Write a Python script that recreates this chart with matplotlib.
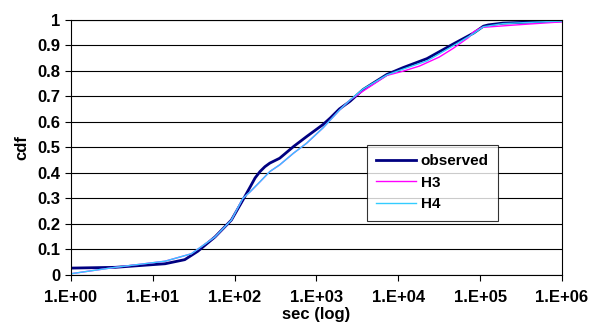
import matplotlib
matplotlib.use("Agg")
import matplotlib.pyplot as plt
import numpy as np

plt.rcParams['font.family'] = ['Liberation Sans', 'DejaVu Sans']
plt.rcParams['font.weight'] = 'bold'

# log10(sec) sample points and cdf values for each series
obs_logx = [0.0, 0.54, 1.15, 1.39, 1.55, 1.76, 1.96, 2.1, 2.15, 2.19, 2.25, 2.31,
            2.37, 2.43, 2.55, 2.72, 2.88, 3.08, 3.17, 3.28, 3.41, 3.57, 3.86,
            4.06, 4.35, 4.67, 4.92, 5.0, 5.04, 5.1, 5.28, 5.69, 6.0]
obs_cdf = [0.027, 0.03, 0.044, 0.06, 0.093, 0.149, 0.215, 0.293, 0.322, 0.345,
           0.38, 0.405, 0.424, 0.438, 0.457, 0.503, 0.542, 0.589, 0.615, 0.65,
           0.68, 0.726, 0.785, 0.812, 0.847, 0.904, 0.947, 0.965, 0.974, 0.979,
           0.986, 0.991, 0.995]

h3_logx = [0.0, 0.54, 1.15, 1.47, 1.76, 1.96, 2.1, 2.19, 2.31, 2.43, 2.55, 2.72,
           2.88, 3.08, 3.28, 3.41, 3.57, 3.86, 4.06, 4.26, 4.5, 4.67, 4.86,
           4.92, 5.02, 5.4, 6.0]
h3_cdf = [0.005, 0.03, 0.054, 0.083, 0.149, 0.215, 0.3, 0.326, 0.365, 0.405,
          0.431, 0.477, 0.516, 0.576, 0.645, 0.685, 0.72, 0.781, 0.798, 0.818,
          0.853, 0.887, 0.93, 0.952, 0.969, 0.978, 0.991]

h4_logx = [0.0, 0.54, 1.15, 1.47, 1.76, 1.96, 2.1, 2.19, 2.31, 2.43, 2.55, 2.72,
           2.88, 3.08, 3.28, 3.41, 3.57, 3.86, 4.06, 4.35, 4.67, 4.92, 5.04,
           5.28, 5.69, 6.0]
h4_cdf = [0.005, 0.03, 0.054, 0.083, 0.149, 0.215, 0.3, 0.326, 0.365, 0.405,
          0.431, 0.477, 0.516, 0.576, 0.645, 0.685, 0.728, 0.783, 0.806, 0.838,
          0.897, 0.945, 0.972, 0.984, 0.99, 0.994]

xticks = [1e0, 1e1, 1e2, 1e3, 1e4, 1e5, 1e6]
xtick_labels = ['1.E+00', '1.E+01', '1.E+02', '1.E+03', '1.E+04', '1.E+05', '1.E+06']
yticks = np.arange(0, 11) / 10
ytick_labels = ['0', '0.1', '0.2', '0.3', '0.4', '0.5', '0.6', '0.7', '0.8', '0.9', '1']

fig = plt.figure(figsize=(5.95, 3.31), dpi=100)
ax = fig.add_axes([0.1193, 0.1692, 0.8252, 0.7718])

ax.plot(10 ** np.array(obs_logx), obs_cdf, color='#000080', lw=2.0, label='observed')
ax.plot(10 ** np.array(h3_logx), h3_cdf, color='#FF00FF', lw=1.0, label='H3')
ax.plot(10 ** np.array(h4_logx), h4_cdf, color='#33CCFF', lw=1.0, label='H4')

ax.set_xscale('log')
ax.set_xlim(1, 1e6)
ax.set_ylim(0, 1)
ax.set_xticks(xticks)
ax.set_xticklabels(xtick_labels)
ax.minorticks_off()
ax.set_yticks(yticks)
ax.set_yticklabels(ytick_labels)
ax.tick_params(axis='both', labelsize=12, length=4, width=0.8, direction='out', colors='black')
ax.tick_params(axis='x', pad=7)
ax.yaxis.grid(True, color='black', lw=0.8)
ax.set_axisbelow(True)
for s in ax.spines.values():
    s.set_linewidth(0.8)

ax.set_xlabel('sec (log)', fontsize=12, fontweight='bold', labelpad=1)
ax.set_ylabel('cdf', fontsize=12, fontweight='bold', labelpad=6)

leg = ax.legend(loc='upper left', bbox_to_anchor=(0.603, 0.509), fontsize=11,
                frameon=True, fancybox=False, edgecolor='black', handlelength=2.6,
                handletextpad=0.3, borderpad=0.6, labelspacing=0.5,
                borderaxespad=0)
leg.get_frame().set_linewidth(0.8)

fig.savefig('out.png', dpi=100)
